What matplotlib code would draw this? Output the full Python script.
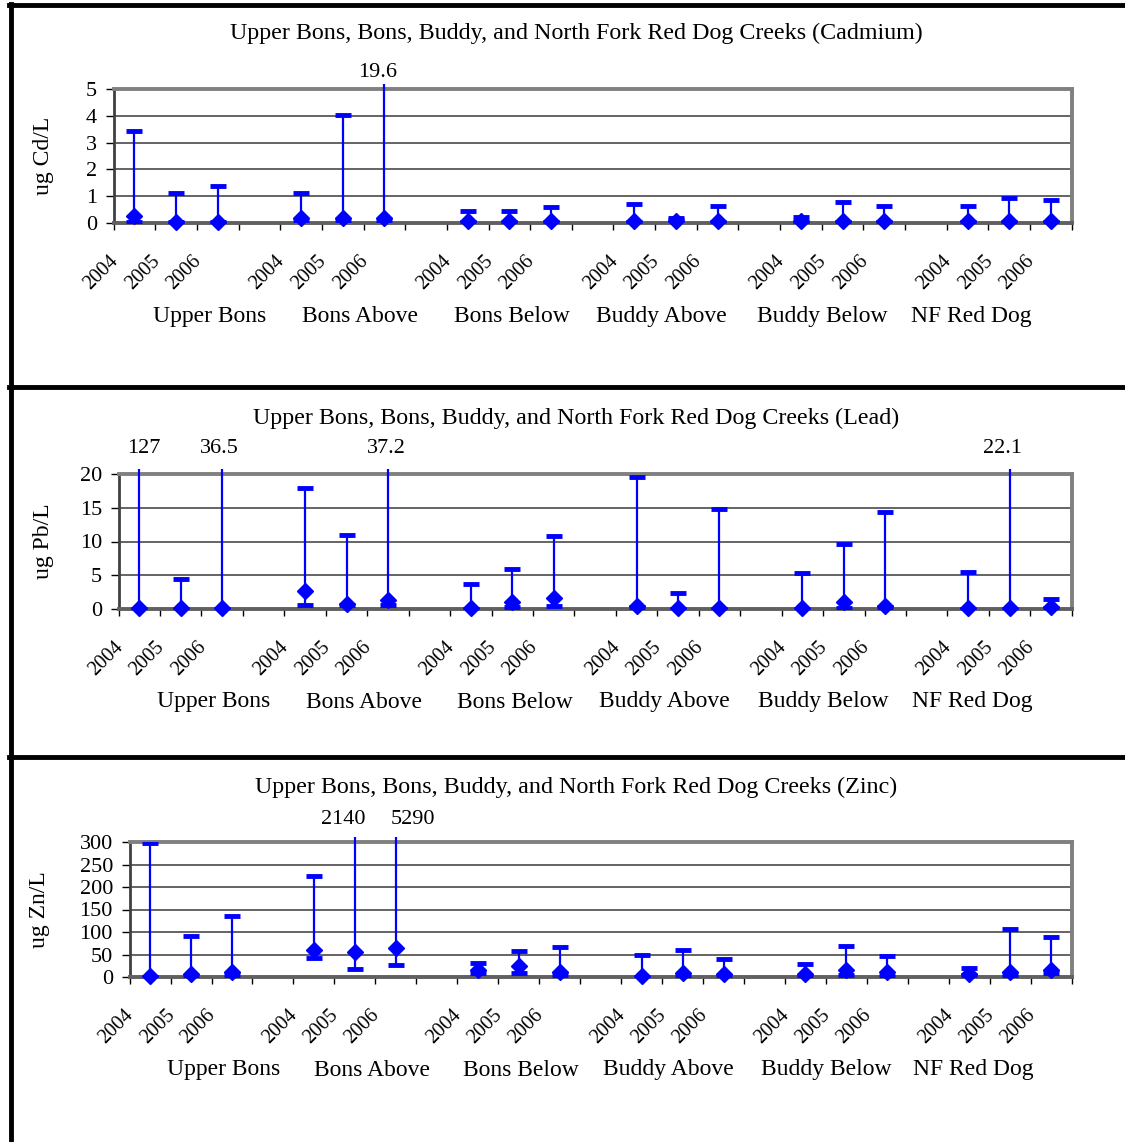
import matplotlib
matplotlib.use('Agg')
import matplotlib.pyplot as plt
import matplotlib.transforms as mtransforms
from matplotlib.lines import Line2D
import numpy as np

plt.rcParams['font.family'] = ['Liberation Serif', 'DejaVu Serif']

sites = ['Upper Bons', 'Bons Above', 'Bons Below', 'Buddy Above', 'Buddy Below', 'NF Red Dog']
years = ['2004', '2005', '2006']

# cadmium (ug/L): central value, minimum, maximum
cd_mid = [0.27, 0.05, 0.05, 0.18, 0.18, 0.18, 0.06, 0.06, 0.06,
          0.06, 0.06, 0.06, 0.06, 0.06, 0.06, 0.06, 0.06, 0.06]
cd_low = [0.05, 0.03, 0.03, 0.10, 0.10, 0.10, 0.03, 0.03, 0.03,
          0.03, 0.10, 0.03, 0.03, 0.03, 0.03, 0.03, 0.03, 0.03]
cd_high = [3.45, 1.13, 1.39, 1.13, 4.03, 19.6, 0.45, 0.45, 0.6,
           0.72, 0.2, 0.65, 0.22, 0.8, 0.65, 0.65, 0.92, 0.85]

# lead (ug/L)
pb_mid = [0.1, 0.15, 0.15, 2.7, 0.8, 1.4, 0.15, 1.1, 1.6,
          0.4, 0.15, 0.15, 0.15, 1.1, 0.4, 0.15, 0.15, 0.25]
pb_low = [0.05, 0.05, 0.05, 0.65, 0.6, 0.65, 0.05, 0.25, 0.4,
          0.3, 0.05, 0.05, 0.05, 0.1, 0.3, 0.05, 0.05, 0.1]
pb_high = [127, 4.43, 36.5, 18.0, 11.0, 37.2, 3.65, 6.0, 10.8,
           19.6, 2.3, 14.8, 5.3, 9.7, 14.3, 5.55, 22.1, 1.5]

# zinc (ug/L)
zn_mid = [3, 7, 11, 60, 56, 64, 15, 24, 11,
          1.5, 8, 7, 7, 15, 11, 7, 11, 15]
zn_low = [1, 3, 5, 42, 17, 26, 8, 9, 5,
          0.5, 3, 3, 1, 5, 3, 4, 5, 8]
zn_high = [298, 91, 136, 225, 2140, 5290, 31, 58, 66,
           50, 61, 41, 30, 70, 46, 21, 107, 90]

W, H = 1125, 1142
fig = plt.figure(figsize=(W / 100, H / 100), dpi=100)

BLUE = '#0000FF'
NCAT = 23  # 3 years per site plus a gap between sites
site_x = [2.3, 5.92, 9.56, 13.16, 17.0, 20.6]

panels = [
    dict(name='Cadmium', ylabel='ug Cd/L', mid=cd_mid, low=cd_low, high=cd_high,
         ymax=5, step=1, box=(113.6, 1071.7, 89, 223), title_y=33, ylab_x=54,
         lab_dx={5: -7}, lab_gap=7),
    dict(name='Lead', ylabel='ug Pb/L', mid=pb_mid, low=pb_low, high=pb_high,
         ymax=20, step=5, box=(118.6, 1071.7, 474, 609), title_y=418, ylab_x=54,
         lab_dx={0: 4, 2: -3, 5: -1.5, 16: -7}, lab_gap=16),
    dict(name='Zinc', ylabel='ug Zn/L', mid=zn_mid, low=zn_low, high=zn_high,
         ymax=300, step=50, box=(129.6, 1071.7, 842, 977), title_y=787, ylab_x=50,
         lab_dx={4: -12, 5: 17}, lab_gap=13),
]

pos = np.array([g * 4 + k + 0.5 for g in range(len(sites)) for k in range(len(years))])

for p in panels:
    x0, x1, yt, yb = p['box']
    ax = fig.add_axes([x0 / W, 1 - yb / H, (x1 - x0) / W, (yb - yt) / H])
    ymax = p['ymax']
    ax.set_xlim(0, NCAT)
    ax.set_ylim(0, ymax)

    ax.set_yticks(np.arange(0, ymax + 0.001, p['step']))
    ax.set_xticks(np.arange(0, NCAT + 1))
    ax.set_xticklabels([])
    ax.tick_params(axis='x', length=5, width=1, direction='out', color='black')
    ax.tick_params(axis='y', length=6, width=1, direction='out', labelsize=16, pad=6)
    for g in np.arange(p['step'], ymax, p['step']):
        ax.axhline(g, color='#3a3a3a', lw=1.1, zorder=1)

    for s in ['top', 'right']:
        ax.spines[s].set_color('#808080')
        ax.spines[s].set_linewidth(2.8)
    ax.spines['bottom'].set_color('#606060')
    ax.spines['bottom'].set_linewidth(2.8)
    ax.spines['left'].set_color('#404040')
    ax.spines['left'].set_linewidth(2)

    mid = np.array(p['mid'])
    low = np.array(p['low'])
    high = np.array(p['high'])
    over = high > ymax
    ext = ymax * (1 + 5 / (yb - yt))
    top = np.where(over, ext, high)

    ax.vlines(pos, low, top, color=BLUE, lw=1.6, zorder=3, clip_on=False)
    ax.plot(pos, low, linestyle='none', marker='_', ms=12, mew=3.5, color=BLUE, zorder=4)
    ax.plot(pos[~over], high[~over], linestyle='none', marker='_', ms=12, mew=3.5,
            color=BLUE, zorder=4)
    ax.plot(pos, mid, linestyle='none', marker='D', ms=8.5, color=BLUE, zorder=5,
            clip_on=False)

    # values that run off the top of the axis
    for i in np.where(over)[0]:
        tr = mtransforms.offset_copy(ax.transData, fig=fig, x=p['lab_dx'].get(i, 0) * 0.72,
                                     y=p['lab_gap'] * 0.72, units='points')
        ax.text(pos[i], ymax, f'{high[i]:g}', ha='center', va='bottom', fontsize=16,
                transform=tr)

    # year labels, rotated
    trans = mtransforms.blended_transform_factory(ax.transData, ax.transAxes)
    ytr = mtransforms.offset_copy(trans, fig=fig, x=-12.5 * 0.72, y=-29 * 0.72, units='points')
    for i, x in enumerate(pos):
        ax.text(x, 0, years[i % 3], rotation=45, ha='right', va='top', fontsize=14.5,
                transform=ytr)

    # site labels
    str_ = mtransforms.offset_copy(trans, fig=fig, x=0, y=-93 * 0.72, units='points')
    for name, sx in zip(sites, site_x):
        ax.text(sx, 0, name, ha='center', va='center', fontsize=17, transform=str_)

    ax.set_ylabel(p['ylabel'], fontsize=17)
    ax.yaxis.set_label_coords((p['ylab_x'] - x0) / (x1 - x0), 0.5)

    fig.text(576 / W, 1 - p['title_y'] / H,
             f'Upper Bons, Bons, Buddy, and North Fork Red Dog Creeks ({p["name"]})',
             ha='center', va='center', fontsize=17.3)

# panel frames
for yy in [5, 387, 757]:
    fig.add_artist(Line2D([9 / W, 1], [1 - yy / H, 1 - yy / H], color='black', lw=3.5))
fig.add_artist(Line2D([10.5 / W, 10.5 / W], [1 - 4 / H, 0], color='black', lw=3.5))

fig.savefig('out.png', dpi=100)
